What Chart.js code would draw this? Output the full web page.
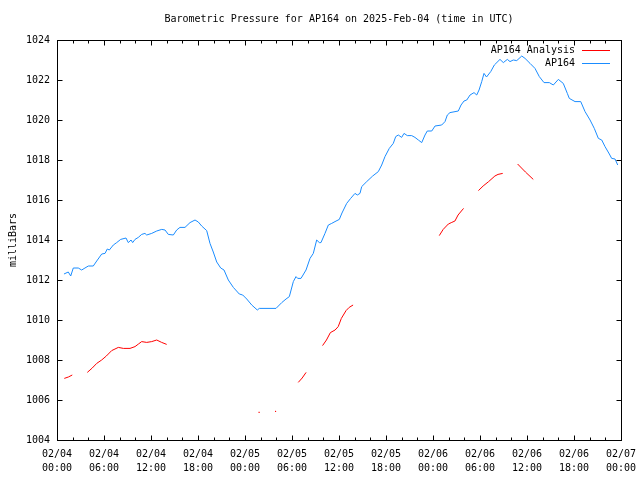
<!DOCTYPE html>
<html>
<head>
<meta charset="utf-8">
<title>Barometric Pressure for AP164</title>
<script src="https://cdn.jsdelivr.net/npm/chart.js@4.4.1/dist/chart.umd.min.js"></script>
<style>
  html, body { margin: 0; padding: 0; background: #fff; }
  canvas { display: block; }
</style>
</head>
<body>
<canvas id="pressureChart" width="640" height="480"></canvas>
<script>
// hours since 2025-02-04 00:00 UTC
const stationHours = [0.89, 1.44, 1.75, 2.08, 2.72, 3.15, 3.57, 4.0, 4.63, 5.07, 5.71, 6.13, 6.42, 6.68, 7.19, 7.62, 8.13, 8.81, 9.10, 9.45, 9.66, 9.96, 10.38, 10.81, 11.23, 11.45, 12.09, 12.73, 13.37, 13.79, 14.21, 14.85, 15.28, 15.70, 16.34, 16.98, 17.62, 18.04, 18.47, 19.11, 19.53, 19.95, 20.39, 20.90, 21.32, 21.87, 22.51, 23.27, 23.71, 24.22, 24.86, 25.57, 25.83, 27.96, 28.69, 29.24, 29.66, 30.17, 30.51, 30.73, 31.15, 31.79, 32.30, 32.72, 33.15, 33.49, 33.70, 34.21, 34.64, 35.07, 35.49, 36.04, 36.38, 36.98, 37.49, 38.04, 38.34, 38.68, 38.90, 39.54, 40.30, 41.02, 41.45, 41.87, 42.42, 42.93, 43.24, 43.57, 44.0, 44.30, 44.72, 45.28, 45.70, 46.13, 46.56, 46.98, 47.27, 47.84, 48.26, 49.11, 49.53, 49.83, 50.17, 51.23, 51.58, 51.96, 52.31, 52.73, 53.24, 53.58, 53.88, 54.22, 54.51, 54.83, 55.37, 55.83, 56.55, 56.98, 57.49, 57.83, 58.25, 58.69, 59.33, 59.75, 60.39, 61.02, 61.57, 62.17, 62.85, 63.36, 64.0, 64.63, 65.15, 65.40, 66.13, 66.86, 67.41, 68.05, 68.59, 69.11, 69.54, 69.96, 70.51, 70.81, 71.24, 71.58];
const stationPressure = [1012.3, 1012.4, 1012.2, 1012.6, 1012.6, 1012.5, 1012.6, 1012.7, 1012.7, 1012.95, 1013.3, 1013.33, 1013.55, 1013.5, 1013.75, 1013.87, 1014.03, 1014.1, 1013.87, 1014.0, 1013.87, 1014.03, 1014.13, 1014.28, 1014.33, 1014.25, 1014.33, 1014.45, 1014.53, 1014.5, 1014.28, 1014.25, 1014.5, 1014.63, 1014.63, 1014.87, 1015.0, 1014.9, 1014.7, 1014.47, 1013.83, 1013.4, 1012.9, 1012.6, 1012.5, 1012.0, 1011.63, 1011.3, 1011.25, 1011.05, 1010.75, 1010.5, 1010.58, 1010.58, 1010.87, 1011.05, 1011.17, 1011.92, 1012.17, 1012.08, 1012.08, 1012.5, 1013.08, 1013.33, 1014.0, 1013.87, 1013.87, 1014.33, 1014.75, 1014.83, 1014.92, 1015.03, 1015.35, 1015.83, 1016.08, 1016.33, 1016.25, 1016.33, 1016.67, 1016.92, 1017.2, 1017.42, 1017.75, 1018.17, 1018.58, 1018.83, 1019.17, 1019.25, 1019.13, 1019.33, 1019.22, 1019.22, 1019.13, 1019.0, 1018.87, 1019.25, 1019.45, 1019.45, 1019.7, 1019.75, 1019.92, 1020.25, 1020.37, 1020.45, 1020.75, 1020.95, 1021.0, 1021.25, 1021.37, 1021.25, 1021.5, 1021.92, 1022.33, 1022.15, 1022.42, 1022.75, 1023.03, 1022.87, 1023.03, 1022.92, 1023.0, 1022.97, 1023.2, 1023.08, 1022.83, 1022.58, 1022.17, 1021.87, 1021.87, 1021.75, 1022.03, 1021.83, 1021.33, 1021.08, 1020.92, 1020.92, 1020.42, 1020.0, 1019.58, 1019.08, 1019.0, 1018.67, 1018.3, 1018.08, 1018.05, 1017.75];

// analysis series, null = gap in the line
const analysisHours = [0.93, 1.45, 1.95, 3.0, 3.87, 4.5, 5.07, 5.7, 6.3, 6.98, 7.83, 8.47, 9.32, 9.96, 10.4, 10.81, 11.45, 12.09, 12.73, 13.36, 14.0, 20.0, 25.8, 27.0, 27.9, 29.0, 30.8, 31.3, 31.8, 33.0, 33.9, 34.4, 34.9, 35.5, 35.9, 36.3, 36.9, 37.3, 37.8, 43.0, 48.8, 49.3, 49.96, 50.4, 50.8, 51.2, 51.9, 53.0, 53.8, 54.4, 55.1, 55.9, 56.3, 56.9, 58.0, 58.8, 59.8, 60.8];
const analysisPressure = [1007.08, 1007.15, 1007.25, null, 1007.38, 1007.6, 1007.83, 1008.0, 1008.2, 1008.47, 1008.63, 1008.58, 1008.58, 1008.67, 1008.8, 1008.92, 1008.88, 1008.92, 1009.0, 1008.88, 1008.78, null, 1005.38, null, 1005.43, null, 1006.88, 1007.1, 1007.38, null, 1008.72, 1009.0, 1009.37, 1009.5, 1009.67, 1010.08, 1010.47, 1010.63, 1010.75, null, 1014.22, 1014.53, 1014.8, 1014.88, 1014.95, 1015.25, 1015.58, null, 1016.47, 1016.7, 1016.92, 1017.2, 1017.28, 1017.33, null, 1017.8, 1017.4, 1017.03];

const tickDates = ['02/04', '02/04', '02/04', '02/04', '02/05', '02/05', '02/05', '02/05', '02/06', '02/06', '02/06', '02/06', '02/07'];
const tickTimes = ['00:00', '06:00', '12:00', '18:00', '00:00', '06:00', '12:00', '18:00', '00:00', '06:00', '12:00', '18:00', '00:00'];
const pressureTicks = [1004, 1006, 1008, 1010, 1012, 1014, 1016, 1018, 1020, 1022, 1024];

const chartTitle = 'Barometric Pressure for AP164 on 2025-Feb-04 (time in UTC)';
const FONT = { family: "'DejaVu Sans Mono', 'Liberation Mono', monospace", size: 10 };
const RED = '#ff0000';
const BLUE = '#1a8cff';

function toPoints(xs, ys) {
    return xs.map((h, i) => ({ x: h, y: ys[i] }));
}

// gnuplot style frame with inward ticks, title and legend
const gnuplotFrame = {
    id: 'gnuplotFrame',
    afterDatasetsDraw(chart) {
        const { ctx, chartArea: a, scales } = chart;
        const L = Math.round(a.left) + 0.5, R = Math.round(a.right) + 0.5;
        const T = Math.round(a.top) + 0.5, B = Math.round(a.bottom) + 0.5;
        ctx.save();
        ctx.strokeStyle = '#000';
        ctx.lineWidth = 1;
        ctx.beginPath();
        for (let h = scales.x.min; h <= scales.x.max; h += 2) {
            const px = Math.round(scales.x.getPixelForValue(h)) + 0.5;
            const len = h % 6 === 0 ? 5 : 3;
            ctx.moveTo(px, B); ctx.lineTo(px, B - len);
            ctx.moveTo(px, T); ctx.lineTo(px, T + len);
        }
        pressureTicks.forEach(v => {
            const py = Math.round(scales.y.getPixelForValue(v)) + 0.5;
            ctx.moveTo(L, py); ctx.lineTo(L + 5, py);
            ctx.moveTo(R, py); ctx.lineTo(R - 5, py);
        });
        ctx.stroke();
        ctx.strokeRect(L, T, R - L, B - T);

        ctx.font = FONT.size + 'px ' + FONT.family;
        ctx.fillStyle = '#000';
        ctx.textBaseline = 'middle';

        // title, centred over the plot area
        ctx.textAlign = 'center';
        ctx.fillText(chartTitle, (a.left + a.right) / 2, 19);

        // legend
        ctx.textAlign = 'right';
        chart.data.datasets.forEach((ds, i) => {
            const ly = Math.round(a.top + 10 + i * 13) + 0.5;
            ctx.fillText(ds.label, a.right - 46, ly);
            ctx.strokeStyle = ds.borderColor;
            ctx.beginPath();
            ctx.moveTo(a.right - 39, ly);
            ctx.lineTo(a.right - 11, ly);
            ctx.stroke();
        });
        ctx.restore();
    }
};

// single isolated analysis values get a dot, like gnuplot does
function lonePointRadius(c) {
    const d = c.dataset.data;
    const i = c.dataIndex;
    if (d[i].y === null) return 0;
    const prev = i > 0 ? d[i - 1].y : null;
    const next = i < d.length - 1 ? d[i + 1].y : null;
    return (prev === null && next === null) ? 0.8 : 0;
}

new Chart(document.getElementById('pressureChart'), {
    type: 'line',
    data: {
        datasets: [
            {
                label: 'AP164 Analysis',
                data: toPoints(analysisHours, analysisPressure),
                borderColor: RED,
                backgroundColor: RED,
                borderWidth: 1,
                pointRadius: lonePointRadius,
                pointStyle: 'rect',
                pointBorderWidth: 0,
                spanGaps: false,
                segment: { borderColor: RED },
                tension: 0
            },
            {
                label: 'AP164',
                data: toPoints(stationHours, stationPressure),
                borderColor: BLUE,
                backgroundColor: BLUE,
                borderWidth: 1,
                pointRadius: 0,
                tension: 0
            }
        ]
    },
    options: {
        responsive: false,
        animation: false,
        events: [],
        layout: { padding: { left: 0, right: 19, top: 40, bottom: 0 } },
        plugins: {
            legend: { display: false },
            tooltip: { enabled: false },
            title: { display: false }
        },
        scales: {
            x: {
                type: 'linear',
                min: 0,
                max: 72,
                grid: { display: false, drawTicks: false },
                border: { display: false },
                afterFit: s => {
                    s.height = 40;
                    s.paddingLeft = 0;
                    s.paddingRight = 0;
                },
                ticks: {
                    stepSize: 6,
                    autoSkip: false,
                    maxRotation: 0,
                    padding: 7,
                    color: '#000',
                    font: { ...FONT, lineHeight: 1.4 },
                    callback: v => {
                        const i = Math.round(v / 6);
                        return [tickDates[i], tickTimes[i]];
                    }
                }
            },
            y: {
                min: 1004,
                max: 1024,
                grid: { display: false, drawTicks: false },
                border: { display: false },
                afterFit: s => {
                    s.width = 57;
                    s.paddingTop = 0;
                    s.paddingBottom = 0;
                },
                ticks: {
                    stepSize: 2,
                    padding: 7,
                    color: '#000',
                    font: FONT,
                    callback: v => String(v)
                },
                title: {
                    display: true,
                    text: 'milliBars',
                    color: '#000',
                    font: FONT,
                    padding: { top: 7, bottom: 0 }
                }
            }
        }
    },
    plugins: [gnuplotFrame]
});
</script>
</body>
</html>
